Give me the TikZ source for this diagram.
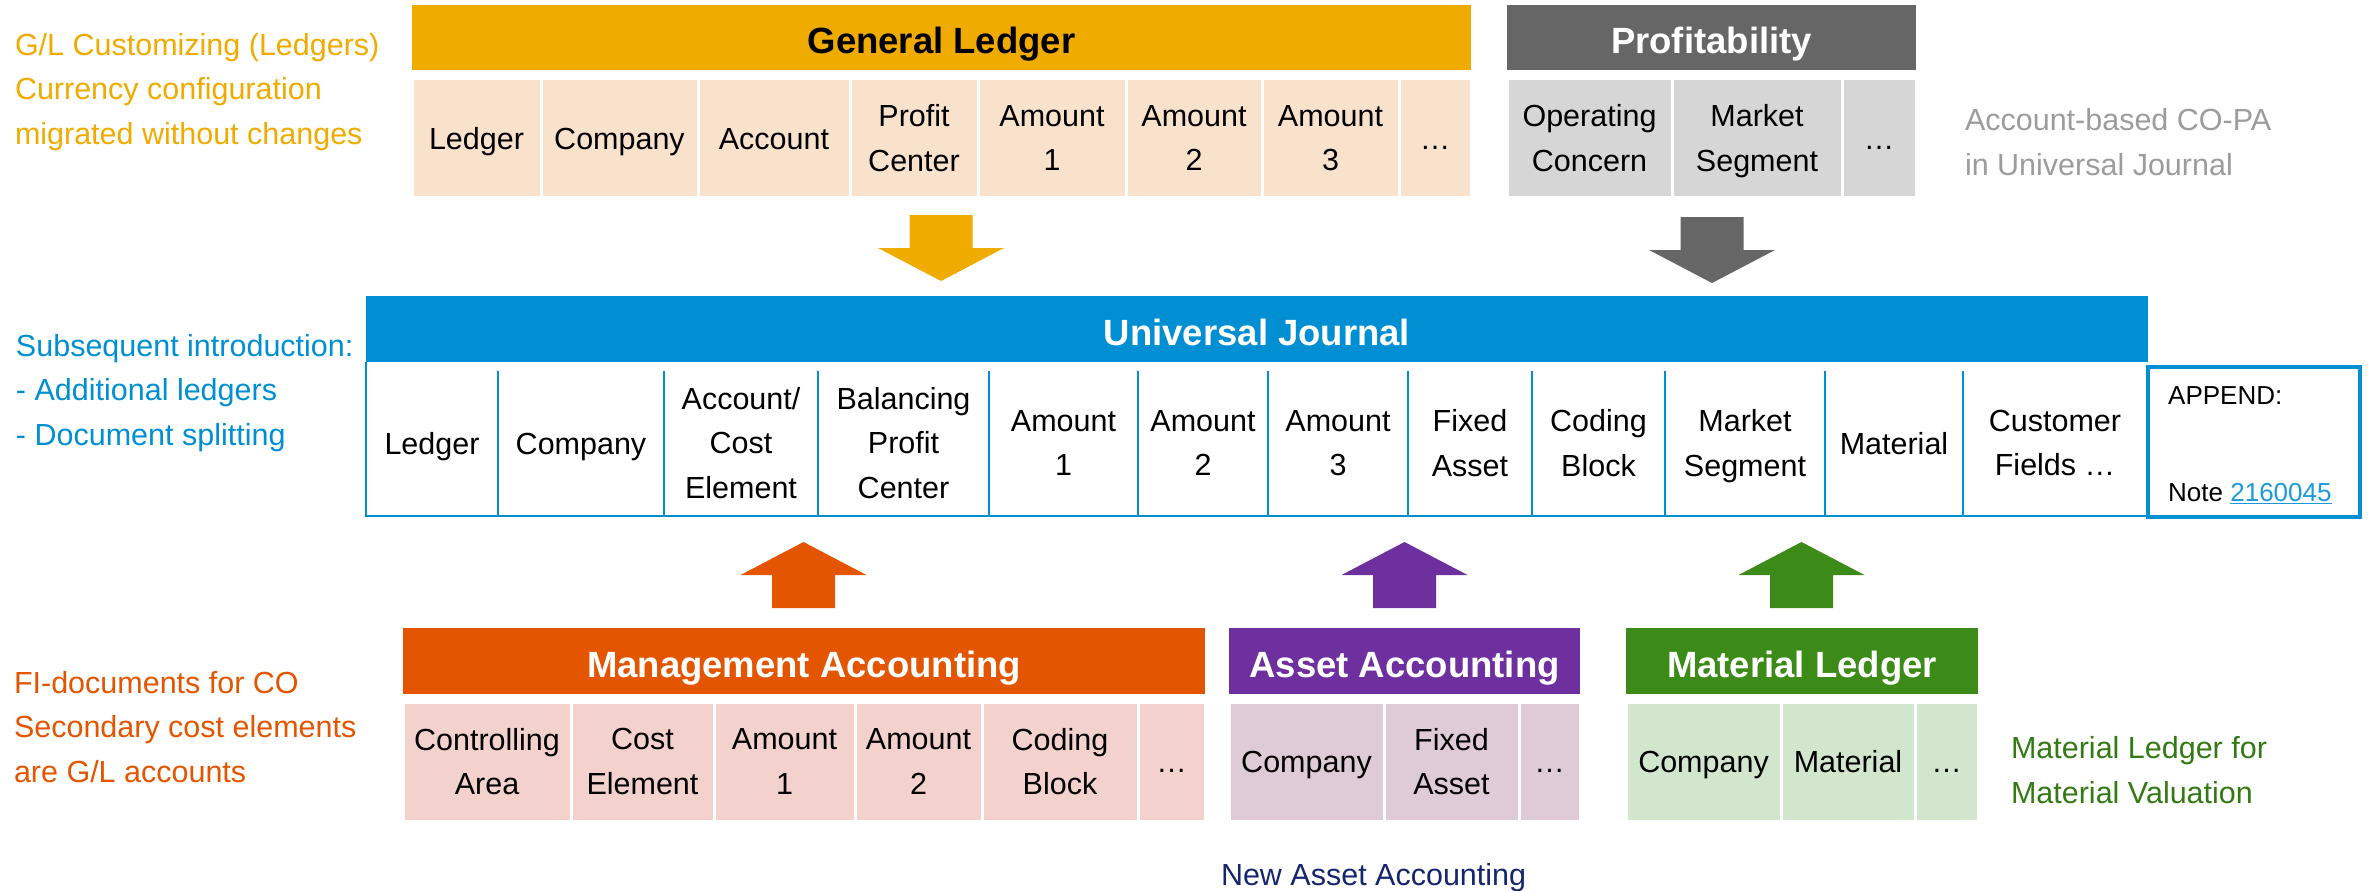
\documentclass[tikz,border=0pt]{standalone}
\usepackage{fontspec}
\setmainfont{Liberation Sans}
\definecolor{gold}{HTML}{F0AB00}
\definecolor{glcellc}{HTML}{F9E2CC}
\definecolor{prhead}{HTML}{666666}
\definecolor{prcell}{HTML}{D6D6D6}
\definecolor{ujblue}{HTML}{008FD3}
\definecolor{mgorange}{HTML}{E35500}
\definecolor{mgcell}{HTML}{F3D1CC}
\definecolor{aapurple}{HTML}{6E309E}
\definecolor{aacell}{HTML}{DFCAD8}
\definecolor{mlgreen}{HTML}{3C8A17}
\definecolor{mlcell}{HTML}{D1E6CC}
\definecolor{mltext}{HTML}{347A14}
\definecolor{navy}{HTML}{15256E}
\definecolor{graytext}{HTML}{9C9C9C}
\definecolor{linkblue}{HTML}{1A9AD9}
\newcommand\blockdown[3]{\fill[#1] (#2,#3) ++(-31.5,0) -- ++(63,0) -- ++(0,33) -- ++(31.5,0) -- ++(-63,33) -- ++(-63,-33) -- ++(31.5,0) -- cycle;}
\newcommand\blockup[3]{\fill[#1] (#2,#3) ++(-31.5,0) -- ++(63,0) -- ++(0,-33) -- ++(31.5,0) -- ++(-63,-33) -- ++(-63,33) -- ++(31.5,0) -- cycle;}
\newcommand\nd[1]{\raisebox{0pt}[\height][0pt]{#1}}
\tikzset{
  cellfont/.style={font=\fontsize{30.5}{44.5}\selectfont},
  hdrfont/.style={font=\fontsize{36.5}{44}\selectfont\bfseries},
  box/.style={inner sep=0pt, outer sep=0pt, anchor=north west, align=center},
  hdr/.style={box, hdrfont, text height=32pt, text depth=0pt},
  one/.style={text height=22pt, text depth=0pt},
  cell/.style={box, cellfont, draw=white, line width=3pt},
  glc/.style={cell, fill=glcellc, minimum height=118},
  prc/.style={cell, fill=prcell, minimum height=118},
  mgc/.style={cell, fill=mgcell, minimum height=119},
  aac/.style={cell, fill=aacell, minimum height=119},
  mlc/.style={cell, fill=mlcell, minimum height=119},
  ujc/.style={inner sep=0pt, outer sep=0pt, cellfont, align=center},
  note/.style={inner sep=0pt, outer sep=0pt, anchor=west, align=left, cellfont},
  ujline/.style={draw=ujblue, line width=2pt},
}
\begin{document}
\begin{tikzpicture}[x=1pt, y=-1pt]
\useasboundingbox (0,0) rectangle (2378,891);

% ---------- General Ledger ----------
\node[hdr, fill=gold, text=black, minimum width=1059, minimum height=65] (glh) at (412,5) {General Ledger};
\node[glc, one, minimum width=129] (gl1) at (412,79) {Ledger};
\node[glc, one, minimum width=157] (gl2) at (541,79) {Company};
\node[glc, one, minimum width=152] (gl3) at (698,79) {Account};
\node[glc, minimum width=128] (gl4) at (850,79) {Profit\\Center};
\node[glc, minimum width=148] (gl5) at (978,79) {Amount\\1};
\node[glc, minimum width=136] (gl6) at (1126,79) {Amount\\2};
\node[glc, minimum width=137] (gl7) at (1262,79) {Amount\\3};
\node[glc, one, minimum width=72] (gl8) at (1399,79) {…};

% ---------- Profitability ----------
\node[hdr, fill=prhead, text=white, minimum width=409, minimum height=65] (prh) at (1507,5) {Profitability};
\node[prc, minimum width=165] (pr1) at (1507,79) {Operating\\Concern};
\node[prc, minimum width=170] (pr2) at (1672,79) {Market\\\nd{Segment}};
\node[prc, one, minimum width=74] (pr3) at (1842,79) {…};

% ---------- notes ----------
\node[note, text=gold] (ngl) at (15,92) {G/L Customizing (Ledgers)\\Currency configuration\\migrated without changes};
\node[note, text=graytext] (npr) at (1965,142) {Account-based CO-PA\\in Universal Journal};
\node[note, text=ujblue] (nuj) at (16,393) {Subsequent introduction:\\- Additional ledgers\\- Document splitting};
\node[note, text=mgorange] (nmg) at (14,727) {FI-documents for CO\\Secondary cost elements\\are G/L accounts};
\node[note, text=mltext] (nml) at (2011,770) {Material Ledger for\\Material Valuation};
\node[note, text=navy] (naa) at (1221,878) {New Asset Accounting};

% ---------- arrows down ----------
\blockdown{gold}{941}{215}
\blockdown{prhead}{1712}{217}

% ---------- Universal Journal ----------
\node[hdr, fill=ujblue, text=white, minimum width=1782, minimum height=66] (ujh) at (366,296) {Universal Journal};
\coordinate (ujbl) at (366,516);
\coordinate (ujbr) at (2148,516);
\draw[ujline] (366,362) -- (ujbl) -- (ujbr);
\foreach \xx in {498,664,818,989,1138,1268,1408,1532,1665,1825,1963}
  \draw[ujline] (\xx,371) -- (\xx,516);
\node[ujc, one] (uj1) at (432,443) {Ledger};
\node[ujc, one] (uj2) at (581,443) {Company};
\node[ujc] (uj3) at (741,443) {Account/\\Cost\\Element};
\node[ujc] (uj4) at (903.5,443) {Balancing\\Profit\\Center};
\node[ujc] (uj5) at (1063.5,443) {Amount\\1};
\node[ujc] (uj6) at (1203,443) {Amount\\2};
\node[ujc] (uj7) at (1338,443) {Amount\\3};
\node[ujc] (uj8) at (1470,443) {Fixed\\Asset};
\node[ujc] (uj9) at (1598.5,443) {Coding\\Block};
\node[ujc] (uj10) at (1745,443) {Market\\\nd{Segment}};
\node[ujc, one] (uj11) at (1894,443) {Material};
\node[ujc] (uj12) at (2055,443) {Customer\\Fields …};

% APPEND box
\node[draw=ujblue, line width=4pt, inner sep=0pt, outer sep=0pt, anchor=north west, minimum width=212, minimum height=150] (app) at (2148,367) {};
\node[inner sep=0pt, anchor=west, font=\fontsize{26}{30}\selectfont] (appt) at (2168,396) {APPEND:};
\node[inner sep=0pt, anchor=west, font=\fontsize{26}{30}\selectfont] (appn) at (2168,494) {Note \textcolor{linkblue}{\underline{2160045}}};

% ---------- arrows up ----------
\blockup{mgorange}{803.5}{608}
\blockup{aapurple}{1404.5}{608}
\blockup{mlgreen}{1801.5}{608}

% ---------- Management Accounting ----------
\node[hdr, fill=mgorange, text=white, minimum width=802, minimum height=66] (mgh) at (403,628) {Management Accounting};
\node[mgc, minimum width=168] (mg1) at (403,702) {Controlling\\Area};
\node[mgc, minimum width=143] (mg2) at (571,702) {Cost\\Element};
\node[mgc, minimum width=141] (mg3) at (714,702) {Amount\\1};
\node[mgc, minimum width=127] (mg4) at (855,702) {Amount\\2};
\node[mgc, minimum width=156] (mg5) at (982,702) {Coding\\Block};
\node[mgc, one, minimum width=67] (mg6) at (1138,702) {…};

% ---------- Asset Accounting ----------
\node[hdr, fill=aapurple, text=white, minimum width=351, minimum height=66] (aah) at (1229,628) {Asset Accounting};
\node[aac, one, minimum width=155] (aa1) at (1229,702) {Company};
\node[aac, minimum width=135] (aa2) at (1384,702) {Fixed\\Asset};
\node[aac, one, minimum width=61] (aa3) at (1519,702) {…};

% ---------- Material Ledger ----------
\node[hdr, fill=mlgreen, text=white, minimum width=352, minimum height=66] (mlh) at (1626,628) {Material Ledger};
\node[mlc, one, minimum width=155] (ml1) at (1626,702) {Company};
\node[mlc, one, minimum width=134] (ml2) at (1781,702) {Material};
\node[mlc, one, minimum width=63] (ml3) at (1915,702) {…};
\end{tikzpicture}
\end{document}
